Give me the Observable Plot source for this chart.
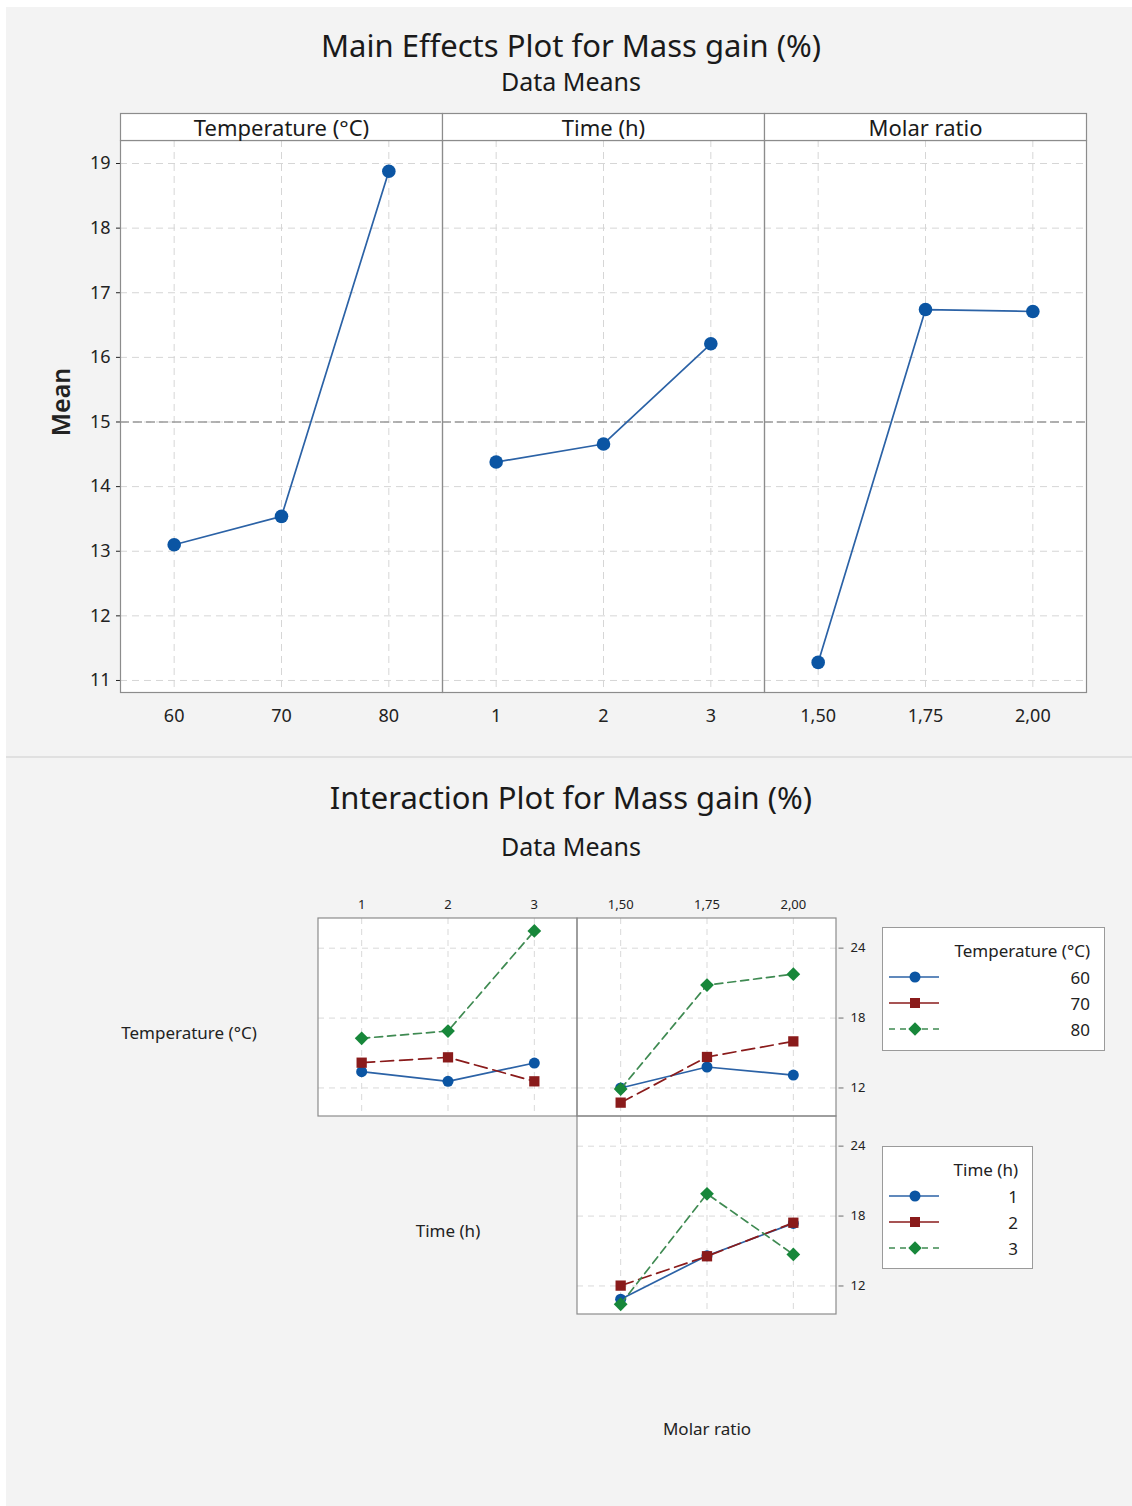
<!DOCTYPE html>
<html>
<head>
<meta charset="utf-8">
<script src="https://cdn.jsdelivr.net/npm/d3@7"></script>
<script src="https://cdn.jsdelivr.net/npm/@observablehq/plot@0.6"></script>
<style>
  html, body { margin: 0; padding: 0; }
  body {
    width: 1132px; height: 1506px; overflow: hidden; position: relative;
    background: #ffffff; font-family: "Noto Sans", "Open Sans", sans-serif; color: #222;
  }
  #sheet { position: absolute; left: 6px; top: 7px; right: 0; bottom: 0; background: #f3f3f3; }
  #divider { position: absolute; left: 6px; right: 0; top: 756px; height: 2px; background: #e0e0e0; }
  .title, .subtitle { position: absolute; left: 571px; transform: translate(-50%, -50%); white-space: nowrap; color: #1a1a1a; }
  .title { font-size: 31px; }
  .subtitle { font-size: 25px; }
  .ylab { position: absolute; left: 60px; top: 402px; transform: translate(-50%, -50%) rotate(-90deg); font-size: 25px; font-weight: 600; }
  .chart { position: absolute; left: 0; }
  .legend { position: absolute; background: #fff; border: 1px solid #9a9a9a; box-sizing: border-box; font-size: 17px; color: #222; }
  .legend .lt { position: absolute; right: 14px; white-space: nowrap; transform: translateY(-50%); }
  .legend svg { position: absolute; left: 6px; }
</style>
</head>
<body>
<div id="sheet"></div>
<div id="divider"></div>
<div class="title" style="top:45px">Main Effects Plot for Mass gain (%)</div>
<div class="subtitle" style="top:81px">Data Means</div>
<div class="ylab">Mean</div>
<div class="title" style="top:797px">Interaction Plot for Mass gain (%)</div>
<div class="subtitle" style="top:846px">Data Means</div>
<div id="main" class="chart" style="top:0px"></div>
<div id="inter" class="chart" style="top:758px"></div>
<div id="legends"></div>
<script>
// ---- factors and level labels ----
const factorNames = ["Temperature (°C)", "Time (h)", "Molar ratio"];
const temperatureLevels = ["60", "70", "80"];
const timeLevels = ["1", "2", "3"];
const molarLevels = ["1,50", "1,75", "2,00"];

// ---- main effects: mean mass gain (%) at each level ----
const meanByTemperature = [13.10, 13.54, 18.88];
const meanByTime = [14.38, 14.66, 16.21];
const meanByMolar = [11.28, 16.74, 16.71];
const grandMean = 15.0;
const meanTicks = [11, 12, 13, 14, 15, 16, 17, 18, 19];

// ---- interaction means: one row per trace level, one column per x level ----
const temperatureByTime = [   // Temperature 60 / 70 / 80 across Time 1 / 2 / 3
  [13.40, 12.57, 14.14],
  [14.17, 14.63, 12.57],
  [16.26, 16.89, 25.48]
];
const temperatureByMolar = [  // Temperature 60 / 70 / 80 across Molar ratio 1,50 / 1,75 / 2,00
  [12.00, 13.80, 13.11],
  [10.74, 14.66, 16.00],
  [11.91, 20.83, 21.77]
];
const timeByMolar = [         // Time 1 / 2 / 3 across Molar ratio 1,50 / 1,75 / 2,00
  [10.86, 14.60, 17.37],
  [12.03, 14.55, 17.43],
  [10.43, 19.91, 14.71]
];
const interactionTicks = [12, 18, 24];

// ---- series styling (level 1 / 2 / 3 of the trace factor) ----
const markerColors = ["#0b55a3", "#8a1b1b", "#17873a"];
const lineColors = ["#2b62a6", "#8a1b1b", "#3f8a52"];
const markerSymbols = ["circle", "square", "diamond2"];
const lineDashes = [null, "13,6", "8,5"];

const font = '"Noto Sans", "Open Sans", sans-serif';

// ================= Main effects plot =================
const levelsByFactor = [temperatureLevels, timeLevels, molarLevels];
const meansByFactor = [meanByTemperature, meanByTime, meanByMolar];
const mainRows = factorNames.flatMap((f, i) =>
  meansByFactor[i].map((m, j) => ({factor: f, idx: j, label: levelsByFactor[i][j], mean: m})));

const mainTop = 140, mainBottom = 65, mainHeight = 757;
const mainInner = mainHeight - mainTop - mainBottom;

const main = Plot.plot({
  width: 1132,
  height: mainHeight,
  marginLeft: 120,
  marginRight: 46,
  marginTop: mainTop,
  marginBottom: mainBottom,
  style: {background: "transparent", fontFamily: font, fontSize: "18px", color: "#222", overflow: "visible"},
  fx: {domain: factorNames, padding: 0, axis: null},
  x: {domain: [-0.5, 2.5], axis: null},
  y: {domain: [10.814, 19.356], ticks: meanTicks, tickSize: 4, tickPadding: 6, label: null, tickFormat: d3.format("d")},
  marks: [
    Plot.frame({fill: "white", stroke: "none"}),
    Plot.ruleY(meanTicks, {stroke: "#d6d6d6", strokeDasharray: "7,5"}),
    Plot.ruleX([0, 1, 2], {stroke: "#d6d6d6", strokeDasharray: "7,5"}),
    Plot.ruleY([grandMean], {stroke: "#9a9a9a", strokeWidth: 1.4, strokeDasharray: "9,4"}),
    Plot.line(mainRows, {fx: "factor", x: "idx", y: "mean", stroke: lineColors[0], strokeWidth: 1.7}),
    Plot.dot(mainRows, {fx: "factor", x: "idx", y: "mean", r: 6.8, fill: markerColors[0], stroke: "none"}),
    Plot.frame({stroke: "#8c8c8c", strokeWidth: 1.2}),
    // strip header above each panel
    Plot.frame({fill: "white", stroke: "#8c8c8c", strokeWidth: 1.2, insetTop: -27, insetBottom: mainInner}),
    Plot.text(factorNames, {fx: d => d, text: d => d, frameAnchor: "top", lineAnchor: "middle", dy: -12, fontSize: 22, fill: "#1a1a1a"}),
    // level labels under each panel
    Plot.text(mainRows, {fx: "factor", x: "idx", text: "label", frameAnchor: "bottom", lineAnchor: "middle", dy: 24, fontSize: 18, fill: "#222"})
  ]
});
document.getElementById("main").append(main);

// ================= Interaction plot matrix =================
const panels = [
  {row: factorNames[0], col: factorNames[1], values: temperatureByTime, xLabels: timeLevels},
  {row: factorNames[0], col: factorNames[2], values: temperatureByMolar, xLabels: molarLevels},
  {row: factorNames[1], col: factorNames[2], values: timeByMolar, xLabels: molarLevels}
];
const interRows = panels.flatMap(p =>
  p.values.flatMap((series, s) => series.map((v, j) => ({row: p.row, col: p.col, series: s, idx: j, mean: v}))));
const gridRows = panels.flatMap(p => interactionTicks.map(t => ({row: p.row, col: p.col, y: t})));
const gridCols = panels.flatMap(p => [0, 1, 2].map(j => ({row: p.row, col: p.col, idx: j})));
const topLabels = panels.filter(p => p.row === factorNames[0])
  .flatMap(p => p.xLabels.map((t, j) => ({row: p.row, col: p.col, idx: j, text: t})));
const rightLabels = panels.filter(p => p.col === factorNames[2])
  .flatMap(p => interactionTicks.map(t => ({row: p.row, col: p.col, y: t})));

const tickMark = {draw(context) { context.moveTo(2, 0); context.lineTo(7, 0); }};

const seriesMarks = [0, 1, 2].flatMap(s => {
  const rows = interRows.filter(d => d.series === s);
  return [
    Plot.line(rows, {fx: "col", fy: "row", x: "idx", y: "mean", stroke: lineColors[s], strokeWidth: 1.7,
      strokeDasharray: lineDashes[s] || undefined}),
    Plot.dot(rows, {fx: "col", fy: "row", x: "idx", y: "mean", symbol: () => markerSymbols[s],
      r: s === 0 ? 5.5 : s === 1 ? 5.8 : 6.2, fill: markerColors[s], stroke: "none"})
  ];
});

const inter = Plot.plot({
  width: 1132,
  height: 754,
  marginLeft: 59,
  marginRight: 296,
  marginTop: 160,
  marginBottom: 0,
  style: {background: "transparent", fontFamily: font, fontSize: "13px", color: "#222", overflow: "visible"},
  fx: {domain: factorNames, padding: 0, axis: null},
  fy: {domain: factorNames, padding: 0, axis: null},
  x: {domain: [-0.5, 2.5], axis: null},
  y: {domain: [9.55, 26.55], axis: null},
  symbol: {type: "identity"},
  marks: [
    Plot.rect(panels, {fx: "col", fy: "row", fill: "white", stroke: "none"}),
    Plot.ruleY(gridRows, {fx: "col", fy: "row", y: "y", stroke: "#d9d9d9", strokeDasharray: "6,5"}),
    Plot.ruleX(gridCols, {fx: "col", fy: "row", x: "idx", stroke: "#d9d9d9", strokeDasharray: "6,5"}),
    ...seriesMarks,
    Plot.rect(panels, {fx: "col", fy: "row", fill: "none", stroke: "#8c8c8c", strokeWidth: 1.2}),
    Plot.text(topLabels, {fx: "col", fy: "row", x: "idx", text: "text", frameAnchor: "top", lineAnchor: "middle", dy: -14, fontSize: 13, fill: "#222"}),
    Plot.dot(rightLabels, {fx: "col", fy: "row", y: "y", frameAnchor: "right", symbol: tickMark, stroke: "#9a9a9a", r: 3}),
    Plot.text(rightLabels, {fx: "col", fy: "row", y: "y", text: d => String(d.y), frameAnchor: "right",
      dx: 14, textAnchor: "start", fontSize: 13, fill: "#222"}),
    // factor names on the diagonal
    Plot.text(factorNames, {fx: d => d, fy: d => d, text: d => d, frameAnchor: "middle", dy: 16, fontSize: 17, fill: "#222"})
  ]
});
document.getElementById("inter").append(inter);

// ================= Legends =================
const legendSpecs = [
  {title: "Temperature (°C)", levels: temperatureLevels, left: 882, top: 927, width: 223, height: 124},
  {title: "Time (h)", levels: timeLevels, left: 882, top: 1146, width: 151, height: 123}
];
const symbolPath = name => d3.symbol(name === "circle" ? d3.symbolCircle : name === "square" ? d3.symbolSquare : d3.symbolDiamond2,
  name === "circle" ? 95 : name === "square" ? 100 : 115)();
const legendRoot = d3.select("#legends");
for (const spec of legendSpecs) {
  const box = legendRoot.append("div").attr("class", "legend")
    .style("left", spec.left + "px").style("top", spec.top + "px")
    .style("width", spec.width + "px").style("height", spec.height + "px");
  box.append("div").attr("class", "lt").style("top", "22px").text(spec.title);
  spec.levels.forEach((lv, s) => {
    const cy = 49 + s * 26;
    box.append("div").attr("class", "lt").style("top", cy + "px").text(lv);
    const svg = box.append("svg").attr("width", 52).attr("height", 16).style("top", (cy - 8) + "px");
    svg.append("line").attr("x1", 0).attr("x2", 50).attr("y1", 8).attr("y2", 8)
      .attr("stroke", lineColors[s]).attr("stroke-width", 1.6)
      .attr("stroke-dasharray", lineDashes[s] ? (s === 2 ? "6,5" : null) : null);
    svg.append("path").attr("d", symbolPath(markerSymbols[s])).attr("transform", "translate(26,8)")
      .attr("fill", markerColors[s]);
  });
}
</script>
</body>
</html>
